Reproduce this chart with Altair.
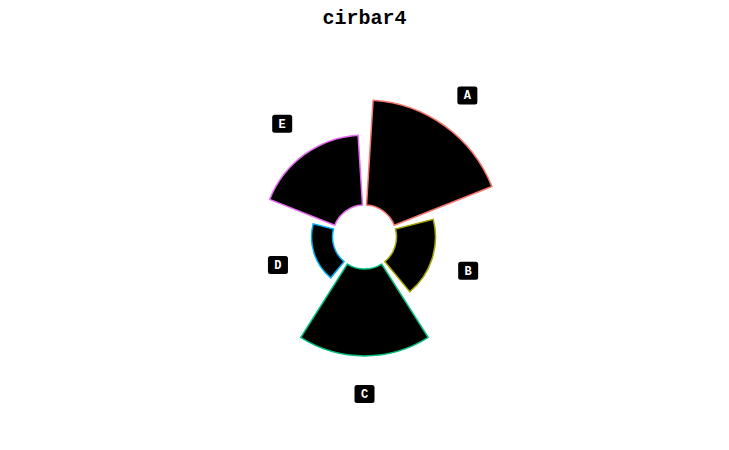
import math
import altair as alt
import pandas as pd

categories = ["A", "B", "C", "D", "E"]
values = [105, 39, 87, 21, 70]
colors = ["#F8766D", "#A3A500", "#00BF7D", "#00B0F6", "#E76BF3"]

n = len(categories)
df = pd.DataFrame({
    "cat": categories,
    "value": values,
    "idx": list(range(n)),
})

FONT = "Courier New, Liberation Mono, monospace"
INNER = 32
CX, CY = 356.5, 205
W, H = 713, 410

base = alt.Chart(df).transform_calculate(
    start="(datum.idx + 0.05) * 2 * PI / 5",
    end="(datum.idx + 0.95) * 2 * PI / 5",
    mid="(datum.idx + 0.5) * 2 * PI / 5",
    lr=f"{INNER} + datum.value + 38",
).transform_calculate(
    lx=f"{CX} + datum.lr * sin(datum.mid)",
    ly=f"{CY} - datum.lr * cos(datum.mid)",
)

arcs = base.mark_arc(fill="black", strokeWidth=1.5).encode(
    theta=alt.Theta("start:Q", scale=None),
    theta2="end:Q",
    radius=alt.Radius("value:Q", scale=alt.Scale(type="linear", domain=[0, 100], range=[INNER, INNER + 100], zero=False)),
    radius2=alt.value(INNER),
    x=alt.value(CX),
    y=alt.value(CY),
    stroke=alt.Stroke("cat:N", scale=alt.Scale(domain=categories, range=colors), legend=None),
)

box_path = ("M -0.75,-0.9 L 0.75,-0.9 Q 1,-0.9 1,-0.65 L 1,0.65 Q 1,0.9 0.75,0.9 "
            "L -0.75,0.9 Q -1,0.9 -1,0.65 L -1,-0.65 Q -1,-0.9 -0.75,-0.9 Z")
boxes = base.mark_point(shape=box_path, filled=True, fill="black", opacity=1, size=20 * 20, strokeWidth=0).encode(
    x=alt.X("lx:Q", scale=None),
    y=alt.Y("ly:Q", scale=None),
)

labels = base.mark_text(font=FONT, fontWeight="bold", fontSize=12, color="white",
                        align="center", baseline="middle").encode(
    x=alt.X("lx:Q", scale=None),
    y=alt.Y("ly:Q", scale=None),
    text="cat:N",
)

chart = alt.layer(arcs, boxes, labels).properties(
    width=W, height=H,
    padding={"left": 0, "right": 0, "top": 0, "bottom": 0},
    title=alt.TitleParams("cirbar4", font=FONT, fontWeight="bold", fontSize=20, anchor="middle", color="black"),
).configure_view(stroke=None)

chart.save("out.html", embed_options={"renderer": "svg", "actions": False})
